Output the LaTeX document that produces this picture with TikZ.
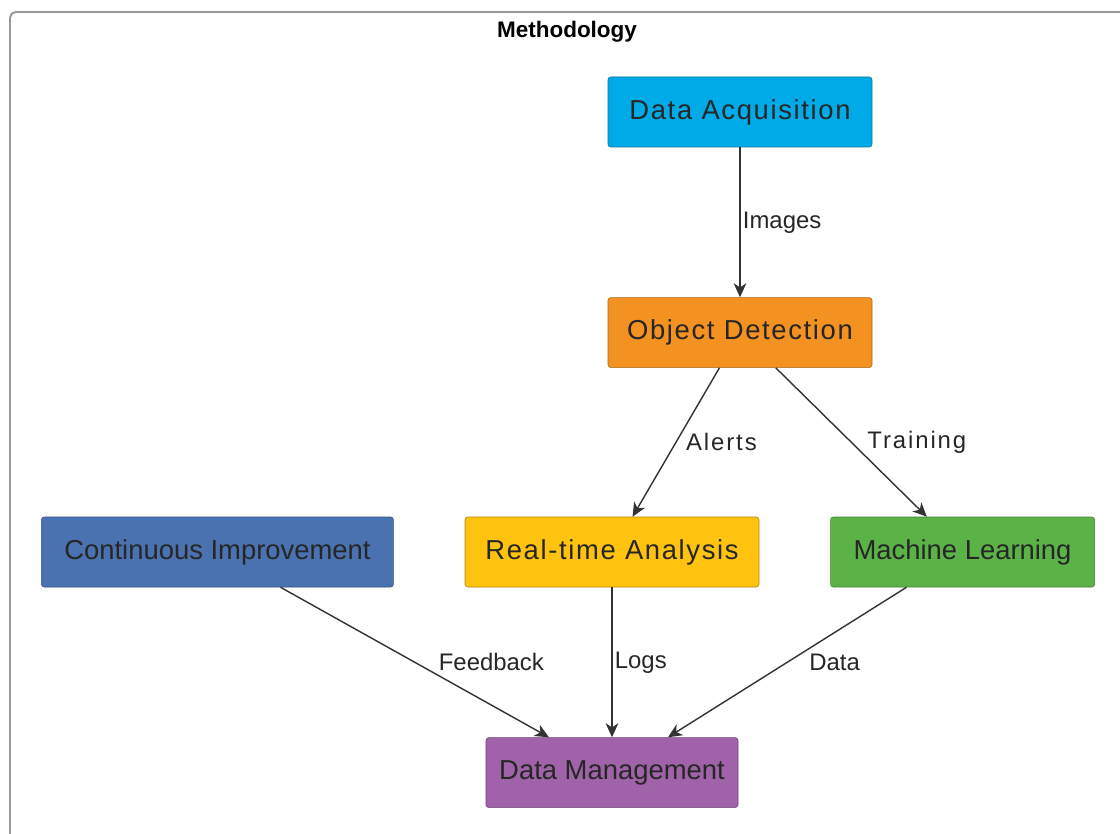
\documentclass[tikz,border=0pt]{standalone}
\usepackage{fontspec}
\setmainfont{Liberation Sans}
\usepackage{xcolor}
\usepackage{tikz}
\usetikzlibrary{positioning,arrows.meta}

\definecolor{acqcolor}{RGB}{0,170,230}
\definecolor{detcolor}{RGB}{243,146,33}
\definecolor{rtacolor}{RGB}{255,194,14}
\definecolor{mlcolor}{RGB}{91,179,72}
\definecolor{cicolor}{RGB}{74,114,176}
\definecolor{dmcolor}{RGB}{160,98,168}
\definecolor{linkcolor}{RGB}{51,51,51}

\tikzset{
    box/.style={draw=#1!70!black, fill=#1, rounded corners=2pt, minimum height=1.75cm,
        inner sep=0pt, font=\fontsize{19.5}{22}\selectfont, text=black!85},
    wide/.style={font=\fontsize{19.5}{22}\selectfont\addfontfeature{LetterSpace=6}},
    link/.style={draw=linkcolor, line width=1pt, -{Stealth[length=10pt,width=9pt,inset=3pt]}},
    lbl/.style={font=\fontsize{17}{19}\selectfont, text=black!85, inner sep=1pt},
    widelbl/.style={font=\fontsize{17}{19}\selectfont\addfontfeature{LetterSpace=8}}
}

\begin{document}
\begin{tikzpicture}
    \useasboundingbox (0,0) rectangle (28,-20.85);
    \draw[gray!80, line width=1.4pt, rounded corners=4pt] (0.25,-0.3) rectangle (28.6,-21.3);
    \node[font=\bfseries\fontsize{16}{19}\selectfont] (title) at (14.175,-0.8) {Methodology};

    \node[box=acqcolor, wide, minimum width=6.6cm] (acq) at (18.5,-2.8) {Data Acquisition};
    \node[box=detcolor, wide, minimum width=6.6cm, below=3.75cm of acq] (det) {Object Detection};
    \node[box=rtacolor, wide, minimum width=7.35cm] (rta) at (15.3,-13.8) {Real-time Analysis};
    \node[box=mlcolor, minimum width=6.6cm, right=1.775cm of rta] (ml) {Machine Learning};
    \node[box=cicolor, minimum width=8.8cm, left=1.775cm of rta] (ci) {Continuous Improvement};
    \node[box=dmcolor, minimum width=6.3cm, below=3.75cm of rta] (dm) {Data Management};

    \draw[link] (acq) -- node[lbl, midway, right=0.02cm] {Images} (det);
    \draw[link] (det) -- node[lbl, widelbl, midway, right=0.2cm] {Alerts} (rta);
    \draw[link] (det) -- node[lbl, widelbl, midway, right=0.35cm] {Training} (ml);
    \draw[link] (ci) -- node[lbl, midway, right=0.55cm] {Feedback} (dm);
    \draw[link] (rta) -- node[lbl, midway, right=0.02cm] {Logs} (dm);
    \draw[link] (ml) -- node[lbl, midway, right=0.5cm] {Data} (dm);
\end{tikzpicture}
\end{document}
